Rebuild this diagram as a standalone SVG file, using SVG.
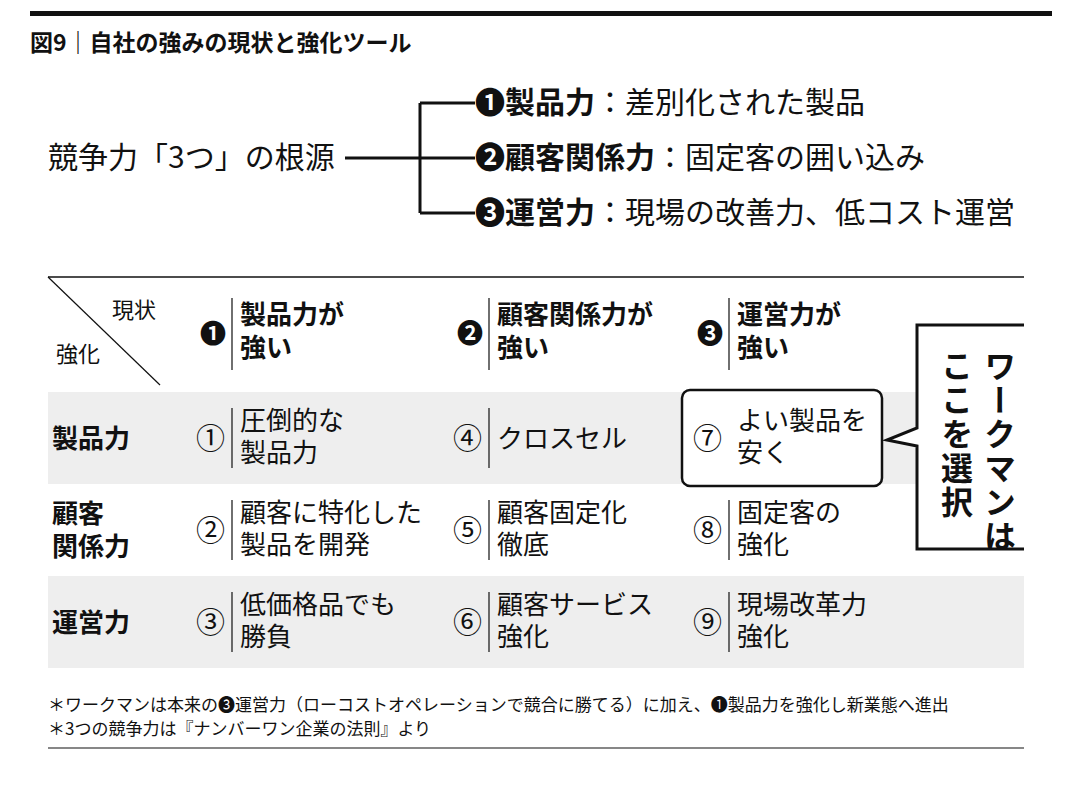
<svg xmlns="http://www.w3.org/2000/svg" width="1080" height="804" viewBox="0 0 1080 804">
<style>
text{font-family:"Noto Sans CJK JP","Noto Sans",sans-serif;fill:#111}
.b{font-weight:bold}
.t{font-size:26px}
.d{font-size:29px}
.ln{stroke:#111;fill:none}
</style>
<rect width="1080" height="804" fill="#fff"/>
<rect x="30" y="11" width="1022" height="5" fill="#111"/>
<text x="30" y="51" font-size="23" class="b">図9｜自社の強みの現状と強化ツール</text>
<g id="root"><text x="48" y="168" font-size="30">競争力「3つ」の根源</text></g>
<g id="connectors" class="ln" stroke-width="3">
<path d="M345 158H420M420 103V213M420 103H475M420 158H475M420 213H475"/>
</g>
<g id="n1"><text x="475" y="113" font-size="30"><tspan class="b">❶製品力</tspan>：差別化された製品</text></g>
<g id="n2"><text x="475" y="168" font-size="30"><tspan class="b">❷顧客関係力</tspan>：固定客の囲い込み</text></g>
<g id="n3"><text x="475" y="223" font-size="30"><tspan class="b">❸運営力</tspan>：現場の改善力、低コスト運営</text></g>
<g id="table">
<line class="ln" x1="48" y1="277" x2="1024" y2="277" stroke-width="1.5"/>
<line class="ln" x1="48" y1="277" x2="160" y2="385" stroke-width="1.2"/>
<text x="112" y="318" font-size="22">現状</text>
<text x="56" y="362" font-size="22">強化</text>
<rect x="48" y="392" width="976" height="92" fill="#eee"/>
<rect x="48" y="576" width="976" height="92" fill="#eee"/>
<g class="ln" stroke-width="1.2">
<path d="M232 298V370M489 298V370M729 298V370"/>
<path d="M232 408V468M489 408V468M729 408V468"/>
<path d="M232 500V560M489 500V560M729 500V560"/>
<path d="M232 592V652M489 592V652M729 592V652"/>
</g>
<g class="b t">
<text x="200" y="343">❶</text><text x="240" y="324">製品力が</text><text x="240" y="357">強い</text>
<text x="457" y="343">❷</text><text x="497" y="324">顧客関係力が</text><text x="497" y="357">強い</text>
<text x="697" y="343">❸</text><text x="737" y="324">運営力が</text><text x="737" y="357">強い</text>
<text x="52" y="448">製品力</text>
<text x="52" y="523">顧客</text><text x="52" y="556">関係力</text>
<text x="52" y="632">運営力</text>
</g>
<rect x="682" y="390" width="200" height="96" rx="8" fill="#fff" stroke="#111" stroke-width="2.5"/>
<g class="t">
<text x="240" y="430">圧倒的な</text><text x="240" y="462">製品力</text>
<text x="497" y="448">クロスセル</text>
<text x="737" y="430">よい製品を</text><text x="737" y="462">安く</text>
<text x="240" y="522">顧客に特化した</text><text x="240" y="554">製品を開発</text>
<text x="497" y="522">顧客固定化</text><text x="497" y="554">徹底</text>
<text x="737" y="522">固定客の</text><text x="737" y="554">強化</text>
<text x="240" y="614">低価格品でも</text><text x="240" y="646">勝負</text>
<text x="497" y="614">顧客サービス</text><text x="497" y="646">強化</text>
<text x="737" y="614">現場改革力</text><text x="737" y="646">強化</text>
</g>
<g class="d">
<text x="196" y="449">①</text><text x="453" y="449">④</text><text x="693" y="449">⑦</text>
<text x="196" y="541">②</text><text x="453" y="541">⑤</text><text x="693" y="541">⑧</text>
<text x="196" y="633">③</text><text x="453" y="633">⑥</text><text x="693" y="633">⑨</text>
</g>
</g>
<g id="callout">
<path d="M1024 325H917V428L887 440L917 446V549H1024" fill="#fff" stroke="#111" stroke-width="3"/>
<text x="1000" y="350" font-size="32" class="b" letter-spacing="2" style="writing-mode:vertical-rl">ワークマンは</text>
<text x="957" y="350" font-size="32" class="b" letter-spacing="2" style="writing-mode:vertical-rl">ここを選択</text>
</g>
<line class="ln" x1="48" y1="748" x2="1024" y2="748" stroke-width="1.2"/>
<text x="48" y="711" font-size="17">＊ワークマンは本来の❸運営力（ローコストオペレーションで競合に勝てる）に加え、❶製品力を強化し新業態へ進出</text>
<text x="48" y="735" font-size="17">＊3つの競争力は『ナンバーワン企業の法則』より</text>
</svg>
